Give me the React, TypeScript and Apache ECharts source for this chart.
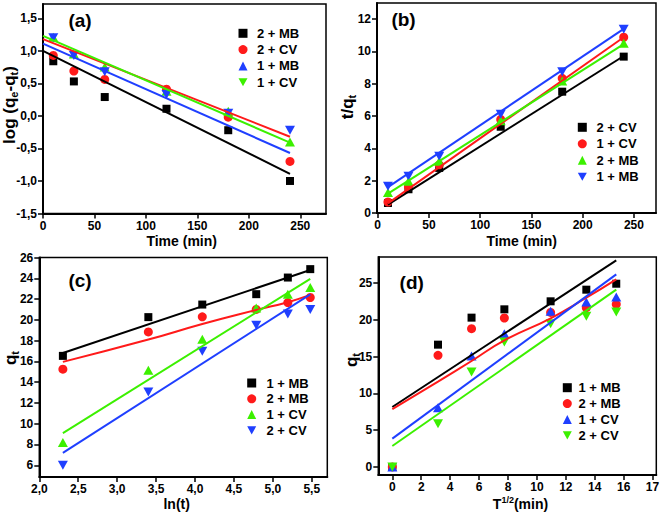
import React, { useEffect, useRef } from "react";
import * as echarts from "echarts";

// ---------- shared x values ----------
const timeMin = [10, 30, 60, 120, 180, 240];
const lnT = [2.303, 3.401, 4.094, 4.787, 5.193, 5.481];
const sqrtT = [0, 3.16, 5.48, 7.75, 10.95, 13.42, 15.49];

// ---------- panel (a): log(qe-qt) vs time ----------
const a2MB = [0.84, 0.53, 0.29, 0.11, -0.22, -1.0];
const a2CV = [0.93, 0.69, 0.56, 0.41, -0.02, -0.7];
const a1MB = [1.2, 0.93, 0.68, 0.33, 0.04, -0.22];
const a1CV = [1.21, 0.95, 0.75, 0.38, 0.07, -0.4];
const aFit2MB = [[0, 1.0], [240, -0.89]];
const aFit2CV = [[0, 1.18], [240, -0.32]];
const aFit1MB = [[0, 1.11], [240, -0.57]];
const aFit1CV = [[0, 1.23], [240, -0.41]];
const aXTicks = [0, 50, 100, 150, 200, 250];
const aYTicks = [-1.5, -1.0, -0.5, 0, 0.5, 1.0, 1.5];

// ---------- panel (b): t/qt vs time ----------
const b2CV = [0.62, 1.47, 2.79, 5.34, 7.51, 9.68];
const b1CV = [0.68, 1.61, 2.98, 5.79, 8.34, 10.88];
const b2MB = [1.27, 1.97, 3.21, 5.71, 8.17, 10.51];
const b1MB = [1.66, 2.28, 3.52, 6.12, 8.75, 11.38];
const bFit2CV = [[10, 0.52], [240, 9.72]];
const bFit1CV = [[10, 0.6], [240, 10.88]];
const bFit2MB = [[10, 1.2], [240, 10.45]];
const bFit1MB = [[10, 1.6], [240, 11.4]];
const bXTicks = [0, 50, 100, 150, 200, 250];
const bYTicks = [0, 2, 4, 6, 8, 10, 12];

// ---------- panel (c): qt vs ln(t) ----------
const c1MB = [16.53, 20.26, 21.47, 22.47, 24.07, 24.88];
const c2MB = [15.25, 18.84, 20.29, 21.0, 21.66, 22.15];
const c1CV = [8.18, 15.15, 18.14, 21.15, 22.47, 23.11];
const c2CV = [6.0, 13.06, 16.98, 19.49, 20.55, 20.99];
const cFit1MB = [[2.303, 16.8], [5.481, 24.8]];
const cFit2MB = [[2.303, 15.95], [3.401, 18.1], [4.094, 19.6], [4.787, 20.95], [5.193, 21.7], [5.481, 22.4]];
const cFit1CV = [[2.303, 9.1], [5.481, 23.95]];
const cFit2CV = [[2.303, 7.2], [5.481, 22.45]];
const cXTicks = [2.0, 2.5, 3.0, 3.5, 4.0, 4.5, 5.0, 5.5];
const cYTicks = [6, 8, 10, 12, 14, 16, 18, 20, 22, 24, 26];

// ---------- panel (d): qt vs t^1/2 ----------
const d1MB = [0, 16.62, 20.29, 21.42, 22.51, 24.09, 24.9];
const d2MB = [0, 15.17, 18.79, 20.24, 21.0, 21.64, 22.1];
const d1CV = [0, 8.06, 15.08, 18.1, 21.15, 22.42, 23.1];
const d2CV = [0, 5.89, 12.9, 16.98, 19.47, 20.47, 21.06];
const dFit1MB = [[0, 8.15], [15.49, 28.08]];
const dFit2MB = [[0, 7.85], [3.16, 11.6], [5.48, 14.4], [7.75, 17.2], [10.95, 20.2], [13.42, 23.0], [15.49, 25.5]];
const dFit1CV = [[0, 3.85], [15.49, 26.17]];
const dFit2CV = [[0, 2.85], [15.49, 24.09]];
const dXTicks = [0, 2, 4, 6, 8, 10, 12, 14, 16, 18];
const dXLabels = ["0", "2", "4", "6", "8", "10", "12", "14", "16", "17"];
const dYTicks = [0, 5, 10, 15, 20, 25];

const FONT = "Liberation Sans";
const BLACK = "#000000";
const RED = "#ff1a1a";
const BLUE = "#1f3fff";
const GREEN = "#3cf000";
const DOWN = "path://M0,0L10,0L5,9Z";

const comma1 = (v: number) => v.toFixed(1).replace(".", ",");
const intFmt = (v: number) => String(Math.round(v));

function axis(gridIndex: number, min: number, max: number, ticks: number[], fmt: (v: number) => string) {
  return {
    type: "value",
    gridIndex,
    min,
    max,
    axisLine: { show: true, onZero: false, lineStyle: { color: BLACK, width: 2 } },
    axisTick: { show: true, inside: false, length: 5, lineStyle: { color: BLACK, width: 1.5 }, customValues: ticks },
    axisLabel: {
      customValues: ticks,
      formatter: fmt,
      margin: 6,
      color: BLACK,
      fontFamily: FONT,
      fontWeight: "bold",
      fontSize: 12,
    },
    splitLine: { show: false },
  };
}

function scatter(name: string, idx: number, xs: number[], ys: number[], color: string, symbol: string, size: any) {
  return {
    type: "scatter",
    name,
    xAxisIndex: idx,
    yAxisIndex: idx,
    data: xs.map((x, i) => [x, ys[i]]),
    symbol,
    symbolSize: size,
    itemStyle: { color, opacity: 1 },
    z: 2,
  };
}

function fit(name: string, idx: number, pts: number[][], color: string, smooth = false) {
  return {
    type: "line",
    name,
    xAxisIndex: idx,
    yAxisIndex: idx,
    data: pts,
    smooth,
    showSymbol: false,
    symbol: "none",
    lineStyle: { color, width: 2 },
    itemStyle: { color },
    z: 3,
  };
}

function legend(
  prefix: string,
  items: { n: string; icon: string }[],
  markerCenterX: number,
  firstRowY: number,
  textStartX: number,
  rowH: number
) {
  const size = 9;
  return {
    orient: "vertical",
    left: markerCenterX - size / 2,
    top: firstRowY - rowH / 2,
    itemWidth: size,
    itemHeight: size,
    itemGap: 0,
    selectedMode: false,
    padding: 0,
    data: items.map((it) => ({ name: prefix + "|" + it.n, icon: it.icon })),
    formatter: (n: string) => n.split("|")[1],
    textStyle: {
      fontFamily: FONT,
      fontWeight: "bold",
      fontSize: 13,
      color: BLACK,
      lineHeight: rowH,
      padding: [0, 0, 0, Math.max(0, textStartX - (markerCenterX + size / 2) - 5)],
    },
  };
}

const SQ = 8;
const CI = 9;
const TR = [10, 9];

export default function App() {
  const ref = useRef<HTMLDivElement>(null);
  useEffect(() => {
    if (!ref.current) return;
    const chart = echarts.init(ref.current, undefined, { renderer: "svg" });
    const mk = (main: number, sub: number) => ({
      m: { fontFamily: FONT, fontWeight: "bold", fontSize: main, lineHeight: main + 4, color: BLACK },
      s: { fontFamily: FONT, fontWeight: "bold", fontSize: sub, lineHeight: sub - 1, verticalAlign: "bottom", color: BLACK },
      u: { fontFamily: FONT, fontWeight: "bold", fontSize: sub, lineHeight: sub - 1, verticalAlign: "top", color: BLACK },
    });
    const xRich = mk(14, 9);
    const yRich = mk(17, 11);
    const gtext = (x: number, y: number, text: string, rich: any, rot = 0) => ({
      type: "text",
      x,
      y,
      rotation: rot,
      style: { text, rich, align: "center", verticalAlign: "middle", fill: BLACK },
    });
    const plabel = (x: number, y: number, text: string) => ({
      type: "text",
      x,
      y,
      style: { text, font: `bold 19px "${FONT}"`, fill: BLACK, align: "center", verticalAlign: "middle" },
    });

    const gridStyle = { show: true, borderColor: BLACK, borderWidth: 1.5, outerBoundsMode: "none" };
    const option: any = {
      animation: false,
      backgroundColor: "#ffffff",
      grid: [
        { left: 43, top: 4, width: 283, height: 209.5, ...gridStyle },
        { left: 377, top: 3, width: 279, height: 210, ...gridStyle },
        { left: 39.3, top: 257.5, width: 288, height: 219.5, ...gridStyle },
        { left: 378.3, top: 257, width: 278, height: 218, ...gridStyle },
      ],
      xAxis: [
        axis(0, 0, 275, aXTicks, intFmt),
        axis(1, -0.7, 271.5, bXTicks, intFmt),
        axis(2, 2.0, 5.7, cXTicks, comma1),
        axis(3, -0.97, 18.26, dXTicks, (v: number) => dXLabels[dXTicks.indexOf(Math.round(v))] ?? String(v)),
      ],
      yAxis: [
        axis(0, -1.5, 1.72, aYTicks, comma1),
        axis(1, 0, 13.0, bYTicks, intFmt),
        axis(2, 4.87, 26.0, cYTicks, intFmt),
        axis(3, -1.09, 28.53, dYTicks, intFmt),
      ],
      legend: [
        legend("a", [
          { n: "2 + MB", icon: "rect" },
          { n: "2 + CV", icon: "circle" },
          { n: "1 + MB", icon: "triangle" },
          { n: "1 + CV", icon: DOWN },
        ], 243, 33.3, 257, 16.3),
        legend("b", [
          { n: "2 + CV", icon: "rect" },
          { n: "1 + CV", icon: "circle" },
          { n: "2 + MB", icon: "triangle" },
          { n: "1 + MB", icon: DOWN },
        ], 582.3, 127.3, 596.5, 16.5),
        legend("c", [
          { n: "1 + MB", icon: "rect" },
          { n: "2 + MB", icon: "circle" },
          { n: "1 + CV", icon: "triangle" },
          { n: "2 + CV", icon: DOWN },
        ], 251.7, 383, 266.5, 15.8),
        legend("d", [
          { n: "1 + MB", icon: "rect" },
          { n: "2 + MB", icon: "circle" },
          { n: "1 + CV", icon: "triangle" },
          { n: "2 + CV", icon: DOWN },
        ], 567.3, 387.7, 578.5, 15.9),
      ],
      series: [
        // (a)
        scatter("a|2 + MB", 0, timeMin, a2MB, BLACK, "rect", SQ),
        scatter("a|2 + CV", 0, timeMin, a2CV, RED, "circle", CI),
        scatter("a|1 + CV", 0, timeMin, a1CV, GREEN, "triangle", TR),
        scatter("a|1 + MB", 0, timeMin, a1MB, BLUE, DOWN, TR),
        fit("a fit 2MB", 0, aFit2MB, BLACK),
        fit("a fit 2CV", 0, aFit2CV, RED),
        fit("a fit 1MB", 0, aFit1MB, BLUE),
        fit("a fit 1CV", 0, aFit1CV, GREEN),
        // (b)
        scatter("b|2 + CV", 1, timeMin, b2CV, BLACK, "rect", SQ),
        scatter("b|1 + CV", 1, timeMin, b1CV, RED, "circle", CI),
        scatter("b|2 + MB", 1, timeMin, b2MB, GREEN, "triangle", TR),
        scatter("b|1 + MB", 1, timeMin, b1MB, BLUE, DOWN, TR),
        fit("b fit 2CV", 1, bFit2CV, BLACK),
        fit("b fit 1CV", 1, bFit1CV, RED),
        fit("b fit 2MB", 1, bFit2MB, GREEN),
        fit("b fit 1MB", 1, bFit1MB, BLUE),
        // (c)
        scatter("c|1 + MB", 2, lnT, c1MB, BLACK, "rect", SQ),
        scatter("c|2 + MB", 2, lnT, c2MB, RED, "circle", CI),
        scatter("c|1 + CV", 2, lnT, c1CV, GREEN, "triangle", TR),
        scatter("c|2 + CV", 2, lnT, c2CV, BLUE, DOWN, TR),
        fit("c fit 1MB", 2, cFit1MB, BLACK),
        fit("c fit 2MB", 2, cFit2MB, RED, true),
        fit("c fit 1CV", 2, cFit1CV, GREEN),
        fit("c fit 2CV", 2, cFit2CV, BLUE),
        // (d)
        scatter("d|1 + MB", 3, sqrtT, d1MB, BLACK, "rect", SQ),
        scatter("d|2 + MB", 3, sqrtT, d2MB, RED, "circle", CI),
        scatter("d|1 + CV", 3, sqrtT, d1CV, BLUE, "triangle", TR),
        scatter("d|2 + CV", 3, sqrtT, d2CV, GREEN, DOWN, TR),
        fit("d fit 1MB", 3, dFit1MB, BLACK),
        fit("d fit 2MB", 3, dFit2MB, RED, true),
        fit("d fit 1CV", 3, dFit1CV, BLUE),
        fit("d fit 2CV", 3, dFit2CV, GREEN),
      ],
      graphic: [
        plabel(80, 20, "(a)"),
        plabel(403.5, 19.5, "(b)"),
        plabel(80, 280, "(c)"),
        plabel(411.7, 282, "(d)"),
        gtext(181.7, 241, "{m|Time (min)}", xRich),
        gtext(521.7, 241, "{m|Time (min)}", xRich),
        gtext(176.7, 504, "{m|ln(t)}", xRich),
        gtext(520.5, 504, "{m|T}{u|1/2}{m|(min)}", xRich),
        gtext(9, 105, "{m|log (q}{s|e}{m|-q}{s|t}{m|)}", yRich, Math.PI / 2),
        gtext(347, 107, "{m|t/q}{s|t}", yRich, Math.PI / 2),
        gtext(10, 358, "{m|q}{s|t}", yRich, Math.PI / 2),
        gtext(351, 360, "{m|q}{s|t}", yRich, Math.PI / 2),
      ],
    };
    chart.setOption(option);
    return () => chart.dispose();
  }, []);
  return (
    <div
      ref={ref}
      style={{ position: "absolute", left: 0, top: 0, width: 661, height: 514, background: "#fff" }}
    />
  );
}
